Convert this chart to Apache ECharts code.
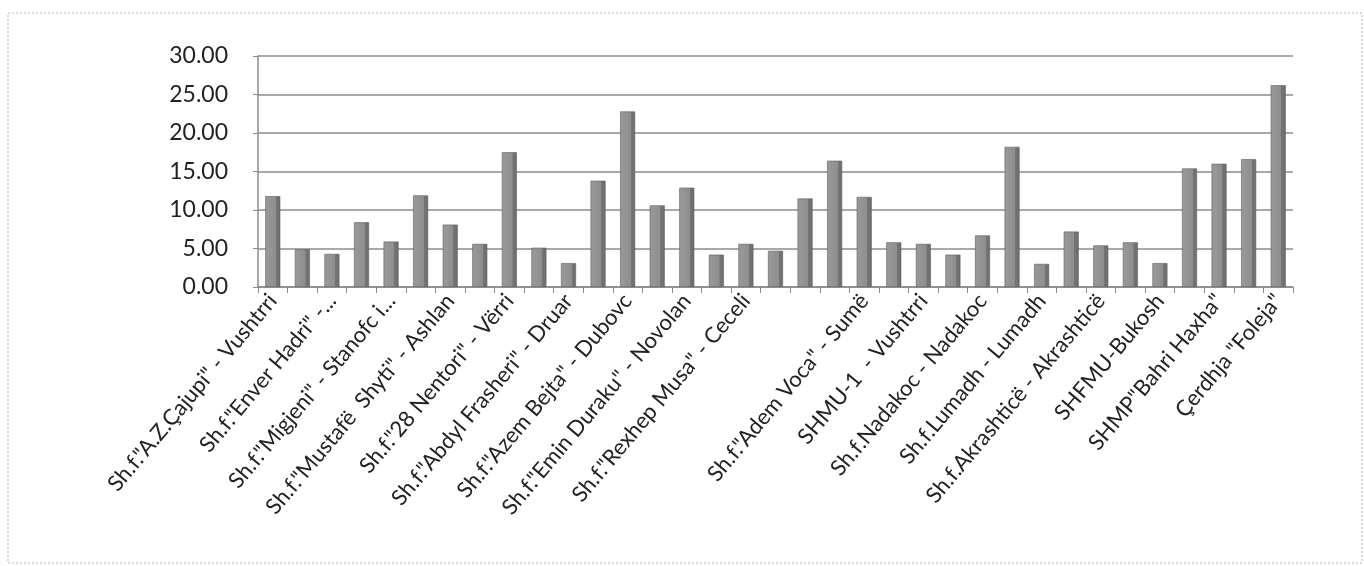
<!DOCTYPE html>
<html>
<head>
<meta charset="utf-8">
<script src="https://cdn.jsdelivr.net/npm/echarts@6/dist/echarts.min.js"></script>
<style>
html,body{margin:0;padding:0;background:#fff;}
#chart{width:1364px;height:566px;}
</style>
</head>
<body>
<div id="chart"></div>
<script>
// Category names (every other label is displayed, as in the reference)
const categories = [
  'Sh.f."A.Z.Çajupi" - Vushtrri', '',
  'Sh.f."Enver Hadri" -...', '',
  'Sh.f."Migjeni" - Stanofc i...', '',
  'Sh.f."Mustafë  Shyti" - Ashlan', '',
  'Sh.f."28 Nentori" - Vërri', '',
  'Sh.f."Abdyl Frasheri" - Druar', '',
  'Sh.f."Azem Bejta" - Dubovc', '',
  'Sh.f."Emin Duraku" - Novolan', '',
  'Sh.f."Rexhep Musa" - Ceceli', '',
  '', '',
  'Sh.f."Adem Voca" - Sumë', '',
  'SHMU-1  - Vushtrri', '',
  'Sh.f.Nadakoc - Nadakoc', '',
  'Sh.f.Lumadh - Lumadh', '',
  'Sh.f.Akrashticë - Akrashticë', '',
  'SHFMU-Bukosh', '',
  'SHMP"Bahri Haxha"', '',
  'Çerdhja "Foleja"'
];
const values = [
  11.8, 4.9, 4.3, 8.4, 5.9, 11.9, 8.1, 5.6, 17.5, 5.1,
  3.1, 13.8, 22.8, 10.6, 12.9, 4.2, 5.6, 4.7, 11.5, 16.4,
  11.7, 5.8, 5.6, 4.2, 6.7, 18.2, 3.0, 7.2, 5.4, 5.8,
  3.1, 15.4, 16.0, 16.6, 26.2
];
const yTicks = { min: 0, max: 30, interval: 5 };

const chart = echarts.init(document.getElementById('chart'));
chart.setOption({
  animation: false,
  backgroundColor: '#ffffff',
  graphic: [{
    type: 'rect', silent: true,
    shape: { x: 8, y: 13, width: 1354, height: 550 },
    style: { fill: 'none', stroke: '#b5b5b5', lineWidth: 1, lineDash: [2, 2] }
  }],
  grid: { left: 258, right: 71, top: 56, bottom: 279, containLabel: false },
  xAxis: {
    type: 'category',
    data: categories,
    axisLine: { show: true, lineStyle: { color: '#8a8a8a', width: 1.5 } },
    axisTick: { show: true, interval: 0, length: 6, lineStyle: { color: '#8a8a8a' } },
    axisLabel: {
      interval: 1, rotate: 50, margin: 10,
      fontFamily: 'Lato', fontSize: 22, color: '#222'
    },
    splitLine: { show: false }
  },
  yAxis: {
    type: 'value',
    min: yTicks.min, max: yTicks.max, interval: yTicks.interval,
    axisLine: { show: true, lineStyle: { color: '#8a8a8a', width: 1.5 } },
    axisTick: { show: true, length: 5, lineStyle: { color: '#8a8a8a' } },
    axisLabel: {
      margin: 30, fontFamily: 'Lato', fontSize: 23, color: '#222',
      formatter: v => v.toFixed(2)
    },
    splitLine: { show: true, lineStyle: { color: '#8c8c8c', width: 1.6 } }
  },
  series: [{
    type: 'bar',
    data: values,
    barWidth: 15,
    itemStyle: {
      color: new echarts.graphic.LinearGradient(0, 0, 1, 0, [
        { offset: 0, color: '#9a9a9a' },
        { offset: 0.7, color: '#8e8e8e' },
        { offset: 0.72, color: '#747474' },
        { offset: 1, color: '#6e6e6e' }
      ]),
      borderColor: '#5e5e5e',
      borderWidth: 0.6
    }
  }]
});
</script>
</body>
</html>
